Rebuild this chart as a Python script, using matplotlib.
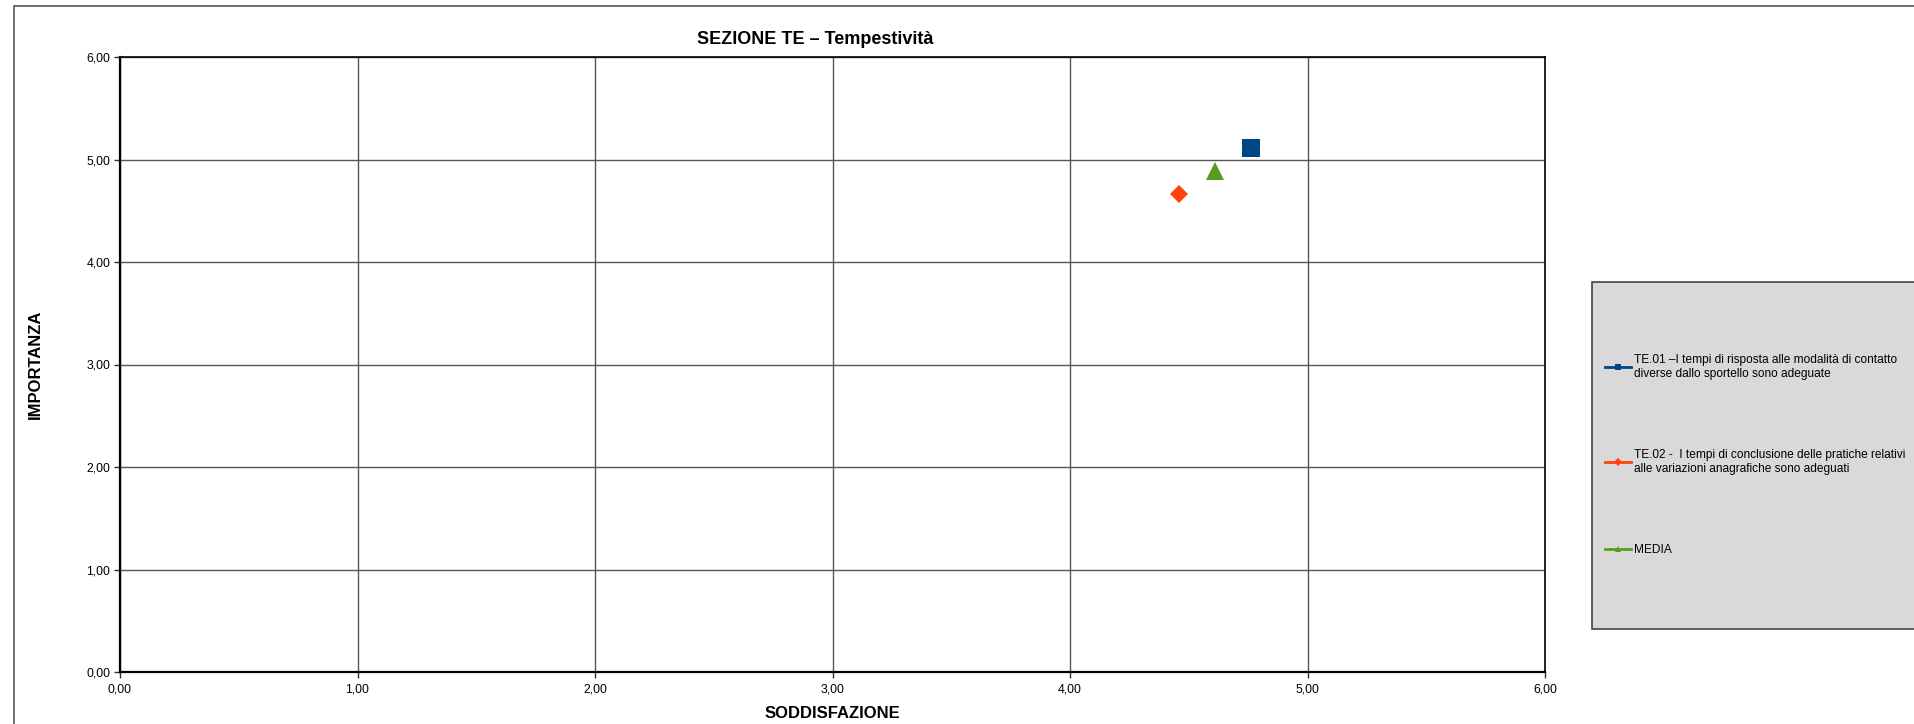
import matplotlib
matplotlib.use("Agg")
from matplotlib import pyplot as plt
from matplotlib.patches import Rectangle

plt.rcParams['font.family'] = ['Liberation Sans', 'DejaVu Sans']

# valori per domanda: soddisfazione (x) e importanza (y)
labels = [
    "TE.01 \u2013I tempi di risposta alle modalità di contatto\ndiverse dallo sportello sono adeguate",
    "TE.02 -  I tempi di conclusione delle pratiche relativi\nalle variazioni anagrafiche sono adeguati",
    "MEDIA",
]
soddisfazione = [4.76, 4.46, 4.61]
importanza = [5.11, 4.66, 4.885]
colori = ["#004586", "#ff420e", "#579d1c"]
marker = ["s", "D", "^"]
msize = [13, 8.8, 13]

ticks = [0, 1, 2, 3, 4, 5, 6]
tick_labels = ["0,00", "1,00", "2,00", "3,00", "4,00", "5,00", "6,00"]

fig = plt.figure(figsize=(19.14, 7.24), dpi=100)
ax = fig.add_axes([120 / 1914, 1 - 672 / 724, 1425 / 1914, 615 / 724])

# cornice esterna del grafico
fig.add_artist(Rectangle((14 / 1914, -0.1), 2, (724 - 6) / 724 + 0.1,
                         transform=fig.transFigure, facecolor="none",
                         edgecolor="#555555", lw=1.2, zorder=0))
# riquadro della legenda
fig.add_artist(Rectangle((1592 / 1914, 1 - 629 / 724), 0.5, 347 / 724,
                         transform=fig.transFigure, facecolor="#d9d9d9",
                         edgecolor="#444444", lw=1.2, zorder=1))

for i in range(len(labels)):
    ax.plot(soddisfazione[i], importanza[i], marker=marker[i], color=colori[i],
            markersize=msize[i], linestyle="-", lw=2, label=labels[i],
            markeredgewidth=0, zorder=5, clip_on=False)

ax.set_xlim(0, 6)
ax.set_ylim(0, 6)
ax.set_xticks(ticks)
ax.set_xticklabels(tick_labels)
ax.set_yticks(ticks)
ax.set_yticklabels(tick_labels)
ax.tick_params(direction="out", length=4, width=1, labelsize=8.8, color="#333333")
ax.tick_params(axis="x", pad=4)
ax.tick_params(axis="y", pad=3)
ax.grid(True, color="#555555", lw=1)
ax.set_axisbelow(True)
for s in ["top", "right"]:
    ax.spines[s].set_linewidth(1.2)
for s in ["left", "bottom"]:
    ax.spines[s].set_linewidth(1.6)

ax.set_title("SEZIONE TE \u2013 Tempestività", fontsize=13, fontweight="bold",
             x=0.488, pad=9)
ax.set_xlabel("SODDISFAZIONE", fontsize=12, fontweight="bold")
ax.set_ylabel("IMPORTANZA", fontsize=12, fontweight="bold")
ax.xaxis.set_label_coords(0.5, -41 / 615)
ax.yaxis.set_label_coords(-85 / 1425, 0.5)
ax.xaxis.label.set_va("center")
ax.yaxis.label.set_va("center")

leg = fig.legend(loc="upper left", bbox_to_anchor=(1605 / 1914, 1 - 354 / 724),
                 frameon=False, fontsize=8.6, labelspacing=5.8, handlelength=2.2,
                 handletextpad=0.25, borderpad=0, borderaxespad=0)
for h in leg.legend_handles:
    h.set_markersize(4.5)
    h.set_linewidth(2)
leg.set_zorder(3)

fig.savefig("out.png", dpi=100)
